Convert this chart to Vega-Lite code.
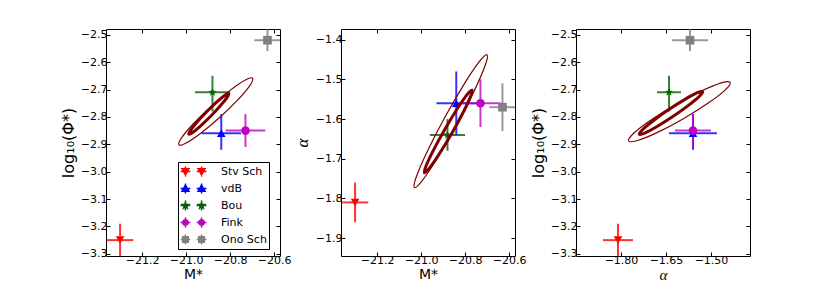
{
 "$schema": "https://vega.github.io/schema/vega-lite/v6.json",
 "padding": {"left": 59, "top": 28, "right": 0, "bottom": 0},
 "background": "white",
 "datasets": {
  "pts": [
   {"source":"Stv Sch","M":-21.30,"M_lo":-21.36,"M_hi":-21.24,"alpha":-1.81,"alpha_lo":-1.86,"alpha_hi":-1.76,"phi":-3.25,"phi_lo":-3.31,"phi_hi":-3.19},
   {"source":"vdB","M":-20.84,"M_lo":-20.93,"M_hi":-20.75,"alpha":-1.56,"alpha_lo":-1.64,"alpha_hi":-1.48,"phi":-2.86,"phi_lo":-2.92,"phi_hi":-2.79},
   {"source":"Bou","M":-20.88,"M_lo":-20.96,"M_hi":-20.80,"alpha":-1.64,"alpha_lo":-1.68,"alpha_hi":-1.60,"phi":-2.71,"phi_lo":-2.78,"phi_hi":-2.65},
   {"source":"Fink","M":-20.73,"M_lo":-20.82,"M_hi":-20.64,"alpha":-1.56,"alpha_lo":-1.62,"alpha_hi":-1.50,"phi":-2.85,"phi_lo":-2.91,"phi_hi":-2.79},
   {"source":"Ono Sch","M":-20.63,"M_lo":-20.69,"M_hi":-20.57,"alpha":-1.57,"alpha_lo":-1.63,"alpha_hi":-1.51,"phi":-2.52,"phi_lo":-2.56,"phi_hi":-2.48}
  ],
  "ell": [
   {"panel":"p1","level":"outer","i":0,"x":-20.6976,"y":-2.6588},
   {"panel":"p1","level":"outer","i":1,"x":-20.7094,"y":-2.6846},
   {"panel":"p1","level":"outer","i":2,"x":-20.7630,"y":-2.7362},
   {"panel":"p1","level":"outer","i":3,"x":-20.8438,"y":-2.7996},
   {"panel":"p1","level":"outer","i":4,"x":-20.9304,"y":-2.8580},
   {"panel":"p1","level":"outer","i":5,"x":-20.9994,"y":-2.8956},
   {"panel":"p1","level":"outer","i":6,"x":-21.0324,"y":-2.9024},
   {"panel":"p1","level":"outer","i":7,"x":-21.0206,"y":-2.8766},
   {"panel":"p1","level":"outer","i":8,"x":-20.9670,"y":-2.8250},
   {"panel":"p1","level":"outer","i":9,"x":-20.8862,"y":-2.7616},
   {"panel":"p1","level":"outer","i":10,"x":-20.7996,"y":-2.7032},
   {"panel":"p1","level":"outer","i":11,"x":-20.7306,"y":-2.6656},
   {"panel":"p1","level":"inner","i":0,"x":-20.8063,"y":-2.7147},
   {"panel":"p1","level":"inner","i":1,"x":-20.8136,"y":-2.7286},
   {"panel":"p1","level":"inner","i":2,"x":-20.8432,"y":-2.7585},
   {"panel":"p1","level":"inner","i":3,"x":-20.8871,"y":-2.7967},
   {"panel":"p1","level":"inner","i":4,"x":-20.9337,"y":-2.8329},
   {"panel":"p1","level":"inner","i":5,"x":-20.9704,"y":-2.8572},
   {"panel":"p1","level":"inner","i":6,"x":-20.9873,"y":-2.8633},
   {"panel":"p1","level":"inner","i":7,"x":-20.9800,"y":-2.8494},
   {"panel":"p1","level":"inner","i":8,"x":-20.9505,"y":-2.8195},
   {"panel":"p1","level":"inner","i":9,"x":-20.9065,"y":-2.7813},
   {"panel":"p1","level":"inner","i":10,"x":-20.8599,"y":-2.7451},
   {"panel":"p1","level":"inner","i":11,"x":-20.8232,"y":-2.7208},
   {"panel":"p2","level":"outer","i":0,"x":-20.7002,"y":-1.4379},
   {"panel":"p2","level":"outer","i":1,"x":-20.7083,"y":-1.4645},
   {"panel":"p2","level":"outer","i":2,"x":-20.7584,"y":-1.5289},
   {"panel":"p2","level":"outer","i":3,"x":-20.8371,"y":-1.6138},
   {"panel":"p2","level":"outer","i":4,"x":-20.9234,"y":-1.6963},
   {"panel":"p2","level":"outer","i":5,"x":-20.9939,"y":-1.7545},
   {"panel":"p2","level":"outer","i":6,"x":-21.0300,"y":-1.7727},
   {"panel":"p2","level":"outer","i":7,"x":-21.0219,"y":-1.7461},
   {"panel":"p2","level":"outer","i":8,"x":-20.9719,"y":-1.6817},
   {"panel":"p2","level":"outer","i":9,"x":-20.8931,"y":-1.5968},
   {"panel":"p2","level":"outer","i":10,"x":-20.8069,"y":-1.5143},
   {"panel":"p2","level":"outer","i":11,"x":-20.7363,"y":-1.4561},
   {"panel":"p2","level":"inner","i":0,"x":-20.7685,"y":-1.5271},
   {"panel":"p2","level":"inner","i":1,"x":-20.7751,"y":-1.5435},
   {"panel":"p2","level":"inner","i":2,"x":-20.8088,"y":-1.5835},
   {"panel":"p2","level":"inner","i":3,"x":-20.8607,"y":-1.6362},
   {"panel":"p2","level":"inner","i":4,"x":-20.9168,"y":-1.6875},
   {"panel":"p2","level":"inner","i":5,"x":-20.9621,"y":-1.7237},
   {"panel":"p2","level":"inner","i":6,"x":-20.9845,"y":-1.7351},
   {"panel":"p2","level":"inner","i":7,"x":-20.9779,"y":-1.7187},
   {"panel":"p2","level":"inner","i":8,"x":-20.9442,"y":-1.6787},
   {"panel":"p2","level":"inner","i":9,"x":-20.8923,"y":-1.6261},
   {"panel":"p2","level":"inner","i":10,"x":-20.8362,"y":-1.5747},
   {"panel":"p2","level":"inner","i":11,"x":-20.7909,"y":-1.5385},
   {"panel":"p3","level":"outer","i":0,"x":-1.4363,"y":-2.6742},
   {"panel":"p3","level":"outer","i":1,"x":-1.4523,"y":-2.7012},
   {"panel":"p3","level":"outer","i":2,"x":-1.5093,"y":-2.7496},
   {"panel":"p3","level":"outer","i":3,"x":-1.5920,"y":-2.8064},
   {"panel":"p3","level":"outer","i":4,"x":-1.6783,"y":-2.8564},
   {"panel":"p3","level":"outer","i":5,"x":-1.7451,"y":-2.8862},
   {"panel":"p3","level":"outer","i":6,"x":-1.7743,"y":-2.8878},
   {"panel":"p3","level":"outer","i":7,"x":-1.7584,"y":-2.8608},
   {"panel":"p3","level":"outer","i":8,"x":-1.7013,"y":-2.8124},
   {"panel":"p3","level":"outer","i":9,"x":-1.6186,"y":-2.7556},
   {"panel":"p3","level":"outer","i":10,"x":-1.5323,"y":-2.7056},
   {"panel":"p3","level":"outer","i":11,"x":-1.4656,"y":-2.6758},
   {"panel":"p3","level":"inner","i":0,"x":-1.5276,"y":-2.7075},
   {"panel":"p3","level":"inner","i":1,"x":-1.5381,"y":-2.7240},
   {"panel":"p3","level":"inner","i":2,"x":-1.5740,"y":-2.7569},
   {"panel":"p3","level":"inner","i":3,"x":-1.6259,"y":-2.7976},
   {"panel":"p3","level":"inner","i":4,"x":-1.6798,"y":-2.8349},
   {"panel":"p3","level":"inner","i":5,"x":-1.7211,"y":-2.8590},
   {"panel":"p3","level":"inner","i":6,"x":-1.7390,"y":-2.8633},
   {"panel":"p3","level":"inner","i":7,"x":-1.7285,"y":-2.8468},
   {"panel":"p3","level":"inner","i":8,"x":-1.6926,"y":-2.8139},
   {"panel":"p3","level":"inner","i":9,"x":-1.6407,"y":-2.7733},
   {"panel":"p3","level":"inner","i":10,"x":-1.5868,"y":-2.7359},
   {"panel":"p3","level":"inner","i":11,"x":-1.5455,"y":-2.7118}
  ]
 },
 "spacing": 61,
 "bounds": "flush",
 "resolve": {"scale": {"color": "independent", "shape": "independent", "fill": "independent", "stroke": "independent", "size": "independent", "strokeWidth": "independent"}},
 "hconcat": [
  {
   "width": 174, "height": 227,
   "resolve": {"axis": {"x": "independent", "y": "independent"}, "scale": {"color": "independent", "shape": "independent", "fill": "independent", "stroke": "independent", "size": "independent", "strokeWidth": "independent"}},
   "layer": [
    {"data": {"name": "pts"}, "mark": {"type": "rule", "strokeWidth": 2, "opacity": 0.8, "clip": true},
     "encoding": {
      "x": {"field": "M_lo", "type": "quantitative", "scale": {"domain": [-21.364, -20.573], "nice": false, "zero": false}, "axis": null},
      "x2": {"field": "M_hi"},
      "y": {"field": "phi", "type": "quantitative", "scale": {"domain": [-3.308, -2.479], "nice": false, "zero": false}, "axis": null},
      "color": {"field": "source", "type": "nominal", "scale": {"domain": ["Stv Sch","vdB","Bou","Fink","Ono Sch"], "range": ["#ff0000","#0000ff","#006400","#bf00bf","#808080"]}, "legend": null}}},
    {"data": {"name": "pts"}, "mark": {"type": "rule", "strokeWidth": 2, "opacity": 0.8, "clip": true},
     "encoding": {
      "x": {"field": "M", "type": "quantitative", "scale": {"domain": [-21.364, -20.573], "nice": false, "zero": false}, "axis": null},
      "y": {"field": "phi_lo", "type": "quantitative", "scale": {"domain": [-3.308, -2.479], "nice": false, "zero": false}, "axis": null},
      "y2": {"field": "phi_hi"},
      "color": {"field": "source", "type": "nominal", "scale": {"domain": ["Stv Sch","vdB","Bou","Fink","Ono Sch"], "range": ["#ff0000","#0000ff","#006400","#bf00bf","#808080"]}, "legend": null}}},
    {"data": {"name": "pts"}, "mark": {"type": "point", "filled": true, "opacity": 1, "clip": true},
     "encoding": {
      "x": {"field": "M", "type": "quantitative", "scale": {"domain": [-21.364, -20.573], "nice": false, "zero": false}, "axis": {"title": "M*", "values": [-21.2, -21.0, -20.8, -20.6], "format": ".1f"}},
      "y": {"field": "phi", "type": "quantitative", "scale": {"domain": [-3.308, -2.479], "nice": false, "zero": false}, "axis": {"title": "log\u2081\u2080(\u03a6*)", "values": [-3.3,-3.2,-3.1,-3.0,-2.9,-2.8,-2.7,-2.6,-2.5], "format": ".1f"}},
      "color": {"field": "source", "type": "nominal", "scale": {"domain": ["Stv Sch","vdB","Bou","Fink","Ono Sch"], "range": ["#ff0000","#0000ff","#006400","#bf00bf","#808080"]}, "legend": null},
      "shape": {"field": "source", "type": "nominal", "scale": {"domain": ["Stv Sch","vdB","Bou","Fink","Ono Sch"], "range": ["triangle-down","triangle-up","M0,-1L0.24,-0.33L0.95,-0.31L0.38,0.12L0.59,0.81L0,0.4L-0.59,0.81L-0.38,0.12L-0.95,-0.31L-0.24,-0.33Z","circle","square"]}, "legend": null},
      "size": {"field": "source", "type": "nominal", "scale": {"domain": ["Stv Sch","vdB","Bou","Fink","Ono Sch"], "range": [75, 75, 30, 52, 64]}, "legend": null}}},
    {"data": {"name": "ell"}, "transform": [{"filter": "datum.panel == 'p1'"}], "mark": {"type": "line", "interpolate": "cardinal-closed", "color": "#800000", "clip": true},
     "encoding": {
      "x": {"field": "x", "type": "quantitative", "scale": {"domain": [-21.364, -20.573], "nice": false, "zero": false}, "axis": {"orient": "top", "labels": false, "title": null, "values": [-21.2, -21.0, -20.8, -20.6]}},
      "y": {"field": "y", "type": "quantitative", "scale": {"domain": [-3.308, -2.479], "nice": false, "zero": false}, "axis": {"orient": "right", "labels": false, "title": null, "values": [-3.3,-3.2,-3.1,-3.0,-2.9,-2.8,-2.7,-2.6,-2.5]}},
      "detail": {"field": "level", "type": "nominal"},
      "order": {"field": "i", "type": "quantitative"},
      "strokeWidth": {"field": "level", "type": "nominal", "scale": {"domain": ["inner", "outer"], "range": [3, 1.2]}, "legend": null}}},
    {"data": {"values": []}, "mark": {"type": "point", "filled": true, "opacity": 1},
     "encoding": {
      "fill": {"field": "source", "type": "nominal", "scale": {"domain": ["Stv Sch","vdB","Bou","Fink","Ono Sch"], "range": ["#ff0000","#0000ff","#006400","#bf00bf","#808080"]}, "legend": {"title": null, "orient": "none", "legendX": 72, "legendY": 133, "direction": "vertical", "clipHeight": 15, "rowPadding": 2, "symbolOpacity": 1}},
      "stroke": {"field": "source", "type": "nominal", "scale": {"domain": ["Stv Sch","vdB","Bou","Fink","Ono Sch"], "range": ["#ff0000","#0000ff","#006400","#bf00bf","#808080"]}, "legend": {"title": null, "orient": "none", "legendX": 72, "legendY": 133, "direction": "vertical", "clipHeight": 15, "rowPadding": 2, "symbolOpacity": 1}},
      "shape": {"field": "source", "type": "nominal", "scale": {"domain": ["Stv Sch","vdB","Bou","Fink","Ono Sch"], "range": [
        "M-3.7,0H-0.9M-2.3,-1.4V1.4M-3.3,-0.8L-1.3,-0.8L-2.3,1ZM0.9,0H3.7M2.3,-1.4V1.4M1.3,-0.8L3.3,-0.8L2.3,1Z",
        "M-3.7,0H-0.9M-2.3,-1.4V1.4M-2.3,-1L-1.3,0.8L-3.3,0.8ZM0.9,0H3.7M2.3,-1.4V1.4M2.3,-1L3.3,0.8L1.3,0.8Z",
        "M-3.7,0H-0.9M-2.3,-1.4V1.4M-2.3,-0.9L-2.09,-0.29L-1.44,-0.28L-1.96,0.11L-1.77,0.73L-2.3,0.36L-2.83,0.73L-2.64,0.11L-3.16,-0.28L-2.51,-0.29ZM0.9,0H3.7M2.3,-1.4V1.4M2.3,-0.9L2.51,-0.29L3.16,-0.28L2.64,0.11L2.83,0.73L2.3,0.36L1.77,0.73L1.96,0.11L1.44,-0.28L2.09,-0.29Z",
        "M-3.7,0H-0.9M-2.3,-1.4V1.4M-1.5,0L-1.607,0.4L-1.9,0.693L-2.3,0.8L-2.7,0.693L-2.993,0.4L-3.1,0L-2.993,-0.4L-2.7,-0.693L-2.3,-0.8L-1.9,-0.693L-1.607,-0.4ZM0.9,0H3.7M2.3,-1.4V1.4M3.1,0L2.993,0.4L2.7,0.693L2.3,0.8L1.9,0.693L1.607,0.4L1.5,0L1.607,-0.4L1.9,-0.693L2.3,-0.8L2.7,-0.693L2.993,-0.4Z",
        "M-3.7,0H-0.9M-2.3,-1.4V1.4M-3.1,-0.8H-1.5V0.8H-3.1ZM0.9,0H3.7M2.3,-1.4V1.4M1.5,-0.8H3.1V0.8H1.5Z"
      ]}, "legend": {"title": null, "orient": "none", "legendX": 72, "legendY": 133, "direction": "vertical", "clipHeight": 15, "rowPadding": 2, "symbolOpacity": 1}}}}
   ]
  },
  {
   "width": 174, "height": 227,
   "resolve": {"axis": {"x": "independent", "y": "independent"}, "scale": {"color": "independent", "shape": "independent", "size": "independent", "strokeWidth": "independent"}},
   "layer": [
    {"data": {"name": "pts"}, "mark": {"type": "rule", "strokeWidth": 2, "opacity": 0.8, "clip": true},
     "encoding": {
      "x": {"field": "M_lo", "type": "quantitative", "scale": {"domain": [-21.364, -20.573], "nice": false, "zero": false}, "axis": null},
      "x2": {"field": "M_hi"},
      "y": {"field": "alpha", "type": "quantitative", "scale": {"domain": [-1.945, -1.373], "nice": false, "zero": false}, "axis": null},
      "color": {"field": "source", "type": "nominal", "scale": {"domain": ["Stv Sch","vdB","Bou","Fink","Ono Sch"], "range": ["#ff0000","#0000ff","#006400","#bf00bf","#808080"]}, "legend": null}}},
    {"data": {"name": "pts"}, "mark": {"type": "rule", "strokeWidth": 2, "opacity": 0.8, "clip": true},
     "encoding": {
      "x": {"field": "M", "type": "quantitative", "scale": {"domain": [-21.364, -20.573], "nice": false, "zero": false}, "axis": null},
      "y": {"field": "alpha_lo", "type": "quantitative", "scale": {"domain": [-1.945, -1.373], "nice": false, "zero": false}, "axis": null},
      "y2": {"field": "alpha_hi"},
      "color": {"field": "source", "type": "nominal", "scale": {"domain": ["Stv Sch","vdB","Bou","Fink","Ono Sch"], "range": ["#ff0000","#0000ff","#006400","#bf00bf","#808080"]}, "legend": null}}},
    {"data": {"name": "pts"}, "mark": {"type": "point", "filled": true, "opacity": 1, "clip": true},
     "encoding": {
      "x": {"field": "M", "type": "quantitative", "scale": {"domain": [-21.364, -20.573], "nice": false, "zero": false}, "axis": {"title": "M*", "values": [-21.2, -21.0, -20.8, -20.6], "format": ".1f"}},
      "y": {"field": "alpha", "type": "quantitative", "scale": {"domain": [-1.945, -1.373], "nice": false, "zero": false}, "axis": {"title": "\u03b1", "titleFont": "Liberation Serif", "titleFontStyle": "italic", "titleFontSize": 17, "values": [-1.9,-1.8,-1.7,-1.6,-1.5,-1.4], "format": ".1f"}},
      "color": {"field": "source", "type": "nominal", "scale": {"domain": ["Stv Sch","vdB","Bou","Fink","Ono Sch"], "range": ["#ff0000","#0000ff","#006400","#bf00bf","#808080"]}, "legend": null},
      "shape": {"field": "source", "type": "nominal", "scale": {"domain": ["Stv Sch","vdB","Bou","Fink","Ono Sch"], "range": ["triangle-down","triangle-up","M0,-1L0.24,-0.33L0.95,-0.31L0.38,0.12L0.59,0.81L0,0.4L-0.59,0.81L-0.38,0.12L-0.95,-0.31L-0.24,-0.33Z","circle","square"]}, "legend": null},
      "size": {"field": "source", "type": "nominal", "scale": {"domain": ["Stv Sch","vdB","Bou","Fink","Ono Sch"], "range": [75, 75, 30, 52, 64]}, "legend": null}}},
    {"data": {"name": "ell"}, "transform": [{"filter": "datum.panel == 'p2'"}], "mark": {"type": "line", "interpolate": "cardinal-closed", "color": "#800000", "clip": true},
     "encoding": {
      "x": {"field": "x", "type": "quantitative", "scale": {"domain": [-21.364, -20.573], "nice": false, "zero": false}, "axis": {"orient": "top", "labels": false, "title": null, "values": [-21.2, -21.0, -20.8, -20.6]}},
      "y": {"field": "y", "type": "quantitative", "scale": {"domain": [-1.945, -1.373], "nice": false, "zero": false}, "axis": {"orient": "right", "labels": false, "title": null, "values": [-1.9,-1.8,-1.7,-1.6,-1.5,-1.4]}},
      "detail": {"field": "level", "type": "nominal"},
      "order": {"field": "i", "type": "quantitative"},
      "strokeWidth": {"field": "level", "type": "nominal", "scale": {"domain": ["inner", "outer"], "range": [3, 1.2]}, "legend": null}}}
   ]
  },
  {
   "width": 174, "height": 227,
   "resolve": {"axis": {"x": "independent", "y": "independent"}, "scale": {"color": "independent", "shape": "independent", "size": "independent", "strokeWidth": "independent"}},
   "layer": [
    {"data": {"name": "pts"}, "mark": {"type": "rule", "strokeWidth": 2, "opacity": 0.8, "clip": true},
     "encoding": {
      "x": {"field": "alpha_lo", "type": "quantitative", "scale": {"domain": [-1.95, -1.37], "nice": false, "zero": false}, "axis": null},
      "x2": {"field": "alpha_hi"},
      "y": {"field": "phi", "type": "quantitative", "scale": {"domain": [-3.308, -2.479], "nice": false, "zero": false}, "axis": null},
      "color": {"field": "source", "type": "nominal", "scale": {"domain": ["Stv Sch","vdB","Bou","Fink","Ono Sch"], "range": ["#ff0000","#0000ff","#006400","#bf00bf","#808080"]}, "legend": null}}},
    {"data": {"name": "pts"}, "mark": {"type": "rule", "strokeWidth": 2, "opacity": 0.8, "clip": true},
     "encoding": {
      "x": {"field": "alpha", "type": "quantitative", "scale": {"domain": [-1.95, -1.37], "nice": false, "zero": false}, "axis": null},
      "y": {"field": "phi_lo", "type": "quantitative", "scale": {"domain": [-3.308, -2.479], "nice": false, "zero": false}, "axis": null},
      "y2": {"field": "phi_hi"},
      "color": {"field": "source", "type": "nominal", "scale": {"domain": ["Stv Sch","vdB","Bou","Fink","Ono Sch"], "range": ["#ff0000","#0000ff","#006400","#bf00bf","#808080"]}, "legend": null}}},
    {"data": {"name": "pts"}, "mark": {"type": "point", "filled": true, "opacity": 1, "clip": true},
     "encoding": {
      "x": {"field": "alpha", "type": "quantitative", "scale": {"domain": [-1.95, -1.37], "nice": false, "zero": false}, "axis": {"title": "\u03b1", "titleFont": "Liberation Serif", "titleFontStyle": "italic", "titleFontSize": 15, "values": [-1.8, -1.65, -1.5], "format": ".2f"}},
      "y": {"field": "phi", "type": "quantitative", "scale": {"domain": [-3.308, -2.479], "nice": false, "zero": false}, "axis": {"title": "log\u2081\u2080(\u03a6*)", "values": [-3.3,-3.2,-3.1,-3.0,-2.9,-2.8,-2.7,-2.6,-2.5], "format": ".1f"}},
      "color": {"field": "source", "type": "nominal", "scale": {"domain": ["Stv Sch","vdB","Bou","Fink","Ono Sch"], "range": ["#ff0000","#0000ff","#006400","#bf00bf","#808080"]}, "legend": null},
      "shape": {"field": "source", "type": "nominal", "scale": {"domain": ["Stv Sch","vdB","Bou","Fink","Ono Sch"], "range": ["triangle-down","triangle-up","M0,-1L0.24,-0.33L0.95,-0.31L0.38,0.12L0.59,0.81L0,0.4L-0.59,0.81L-0.38,0.12L-0.95,-0.31L-0.24,-0.33Z","circle","square"]}, "legend": null},
      "size": {"field": "source", "type": "nominal", "scale": {"domain": ["Stv Sch","vdB","Bou","Fink","Ono Sch"], "range": [75, 75, 30, 52, 64]}, "legend": null}}},
    {"data": {"name": "ell"}, "transform": [{"filter": "datum.panel == 'p3'"}], "mark": {"type": "line", "interpolate": "cardinal-closed", "color": "#800000", "clip": true},
     "encoding": {
      "x": {"field": "x", "type": "quantitative", "scale": {"domain": [-1.95, -1.37], "nice": false, "zero": false}, "axis": {"orient": "top", "labels": false, "title": null, "values": [-1.8, -1.65, -1.5]}},
      "y": {"field": "y", "type": "quantitative", "scale": {"domain": [-3.308, -2.479], "nice": false, "zero": false}, "axis": {"orient": "right", "labels": false, "title": null, "values": [-3.3,-3.2,-3.1,-3.0,-2.9,-2.8,-2.7,-2.6,-2.5]}},
      "detail": {"field": "level", "type": "nominal"},
      "order": {"field": "i", "type": "quantitative"},
      "strokeWidth": {"field": "level", "type": "nominal", "scale": {"domain": ["inner", "outer"], "range": [3, 1.2]}, "legend": null}}}
   ]
  }
 ],
 "config": {
  "view": {"stroke": "black", "strokeWidth": 1},
  "axis": {"grid": false, "domain": false, "tickSize": -4, "tickColor": "black", "tickWidth": 1, "labelFont": "DejaVu Sans", "labelFontSize": 11, "labelColor": "black", "labelPadding": 3, "labelOverlap": false, "labelFlush": false, "titleFont": "DejaVu Sans", "titleFontSize": 16, "titleFontWeight": "normal", "titleColor": "black"},
  "axisX": {"titlePadding": 2, "titleFontSize": 14, "labelPadding": 2},
  "axisY": {"titlePadding": 4},
  "legend": {"strokeColor": "black", "fillColor": "white", "padding": 2, "symbolSize": 49, "symbolStrokeWidth": 1.5, "labelFont": "DejaVu Sans", "labelFontSize": 11, "labelColor": "black", "symbolOffset": 8, "labelOffset": 22, "rowPadding": 2, "cornerRadius": 0}
 }
}
